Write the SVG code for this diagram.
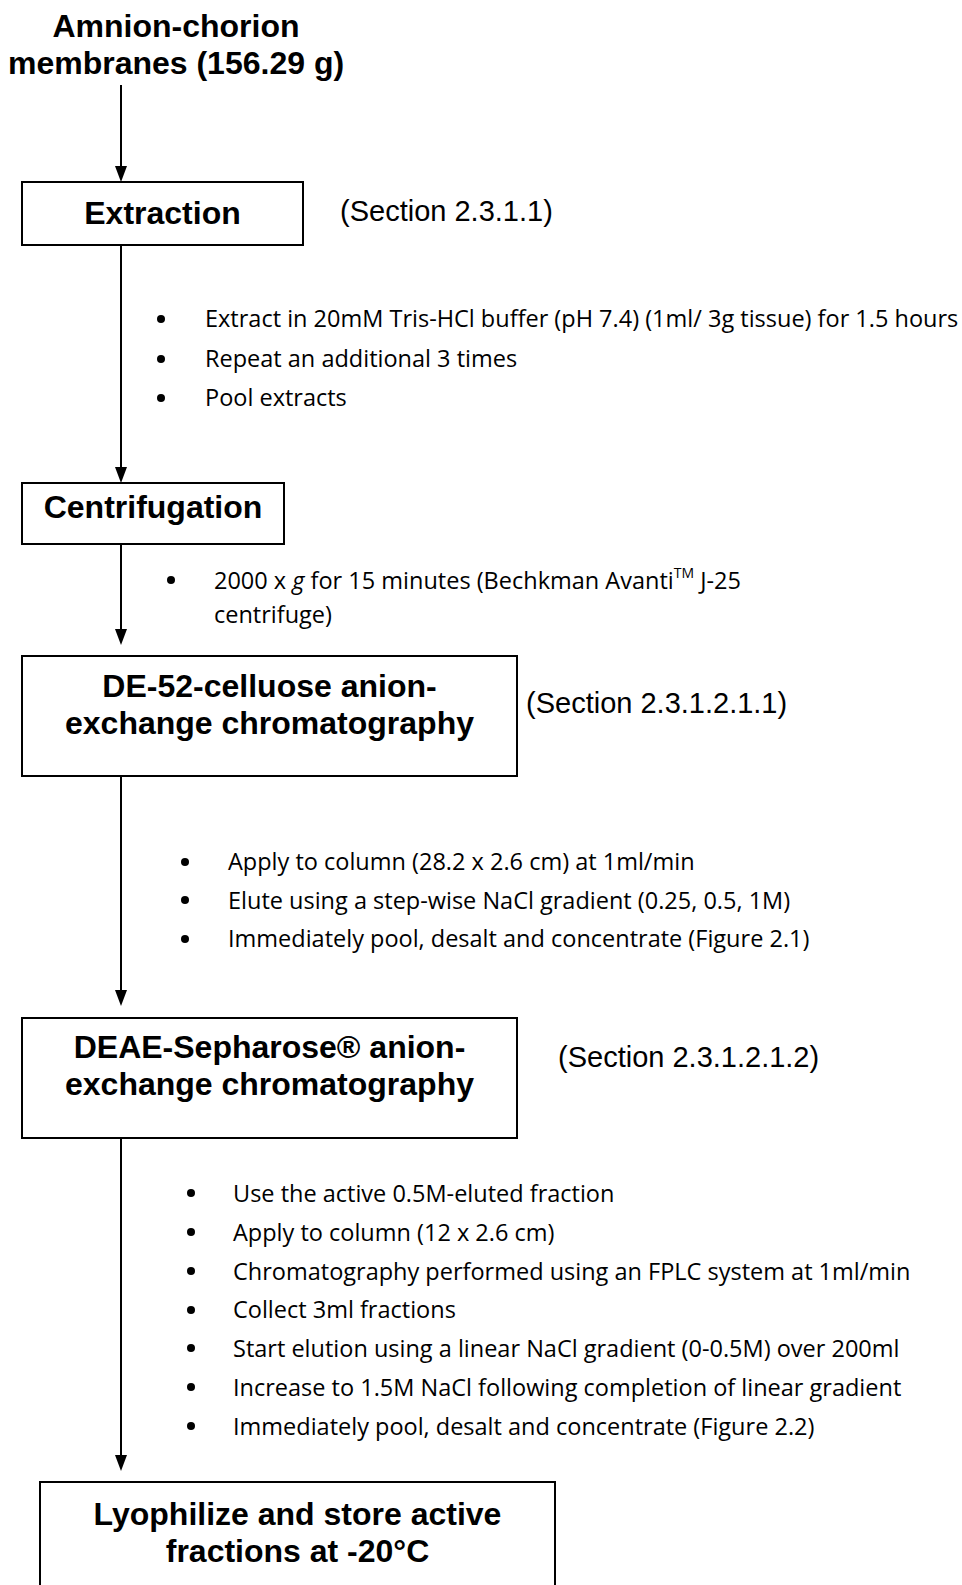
<svg xmlns="http://www.w3.org/2000/svg" width="962" height="1585" viewBox="0 0 962 1585">
<defs>
<style>
.box{fill:#fff;stroke:#000;stroke-width:2}
.lbl{font-family:"Liberation Sans",Arial,sans-serif;font-weight:bold;font-size:32px;fill:#000;text-anchor:middle}
.sec{font-family:"Liberation Sans",Arial,sans-serif;font-size:29px;fill:#000}
.bt{font-family:"Open Sans","Noto Sans",sans-serif;font-size:23.5px;fill:#000}
.dot{fill:#000}
.ln{stroke:#000;stroke-width:2;fill:none}
.ah{fill:#000}
</style>
</defs>
<rect width="962" height="1585" fill="#fff"/>

<g id="connectors">
<line class="ln" x1="121" y1="85" x2="121" y2="170"/>
<path class="ah" d="M115,166 L127,166 L121,182 Z"/>
<line class="ln" x1="121" y1="245" x2="121" y2="471"/>
<path class="ah" d="M115,467 L127,467 L121,483 Z"/>
<line class="ln" x1="121" y1="544" x2="121" y2="633"/>
<path class="ah" d="M115,629 L127,629 L121,645 Z"/>
<line class="ln" x1="121" y1="776" x2="121" y2="994"/>
<path class="ah" d="M115,990 L127,990 L121,1006 Z"/>
<line class="ln" x1="121" y1="1138" x2="121" y2="1459"/>
<path class="ah" d="M115,1455 L127,1455 L121,1471 Z"/>
</g>

<g id="start">
<text class="lbl" x="176" y="37">Amnion-chorion</text>
<text class="lbl" x="176" y="74">membranes (156.29 g)</text>
</g>

<g id="extraction">
<rect class="box" x="22" y="182" width="281" height="63"/>
<text class="lbl" x="162.5" y="224">Extraction</text>
<text class="sec" x="340" y="221">(Section 2.3.1.1)</text>
</g>

<g id="extraction-notes">
<circle class="dot" cx="161" cy="319" r="4"/>
<circle class="dot" cx="161" cy="359" r="4"/>
<circle class="dot" cx="161" cy="398" r="4"/>
<text class="bt" x="205" y="327">Extract in 20mM Tris-HCl buffer (pH 7.4) (1ml/ 3g tissue) for 1.5 hours</text>
<text class="bt" x="205" y="367">Repeat an additional 3 times</text>
<text class="bt" x="205" y="406">Pool extracts</text>
</g>

<g id="centrifugation">
<rect class="box" x="22" y="483" width="262" height="61"/>
<text class="lbl" x="153" y="518">Centrifugation</text>
</g>

<g id="centrifugation-notes">
<circle class="dot" cx="171" cy="580" r="4"/>
<text class="bt" y="589"><tspan x="214">2000 x </tspan><tspan font-style="italic">g</tspan><tspan> for 15 minutes (Bechkman Avanti</tspan><tspan font-size="14" dy="-11">TM</tspan><tspan dy="11"> J-25</tspan></text>
<text class="bt" x="214" y="623">centrifuge)</text>
</g>

<g id="de52">
<rect class="box" x="22" y="656" width="495" height="120"/>
<text class="lbl" x="269.5" y="697">DE-52-celluose anion-</text>
<text class="lbl" x="269.5" y="734">exchange chromatography</text>
<text class="sec" x="526" y="713">(Section 2.3.1.2.1.1)</text>
</g>

<g id="de52-notes">
<circle class="dot" cx="185" cy="862" r="4"/>
<circle class="dot" cx="185" cy="900" r="4"/>
<circle class="dot" cx="185" cy="939" r="4"/>
<text class="bt" x="228" y="870">Apply to column (28.2 x 2.6 cm) at 1ml/min</text>
<text class="bt" x="228" y="909">Elute using a step-wise NaCl gradient (0.25, 0.5, 1M)</text>
<text class="bt" x="228" y="947">Immediately pool, desalt and concentrate (Figure 2.1)</text>
</g>

<g id="deae">
<rect class="box" x="22" y="1018" width="495" height="120"/>
<text class="lbl" x="269.5" y="1058">DEAE-Sepharose® anion-</text>
<text class="lbl" x="269.5" y="1095">exchange chromatography</text>
<text class="sec" x="558" y="1067">(Section 2.3.1.2.1.2)</text>
</g>

<g id="deae-notes">
<circle class="dot" cx="191" cy="1193" r="4"/>
<circle class="dot" cx="191" cy="1232" r="4"/>
<circle class="dot" cx="191" cy="1271" r="4"/>
<circle class="dot" cx="191" cy="1310" r="4"/>
<circle class="dot" cx="191" cy="1348" r="4"/>
<circle class="dot" cx="191" cy="1387" r="4"/>
<circle class="dot" cx="191" cy="1426" r="4"/>
<text class="bt" x="233" y="1202">Use the active 0.5M-eluted fraction</text>
<text class="bt" x="233" y="1241">Apply to column (12 x 2.6 cm)</text>
<text class="bt" x="233" y="1280">Chromatography performed using an FPLC system at 1ml/min</text>
<text class="bt" x="233" y="1318">Collect 3ml fractions</text>
<text class="bt" x="233" y="1357">Start elution using a linear NaCl gradient (0-0.5M) over 200ml</text>
<text class="bt" x="233" y="1396">Increase to 1.5M NaCl following completion of linear gradient</text>
<text class="bt" x="233" y="1435">Immediately pool, desalt and concentrate (Figure 2.2)</text>
</g>

<g id="lyophilize">
<rect class="box" x="40" y="1482" width="515" height="130"/>
<text class="lbl" x="297.5" y="1525">Lyophilize and store active</text>
<text class="lbl" x="297.5" y="1562">fractions at -20°C</text>
</g>
</svg>
